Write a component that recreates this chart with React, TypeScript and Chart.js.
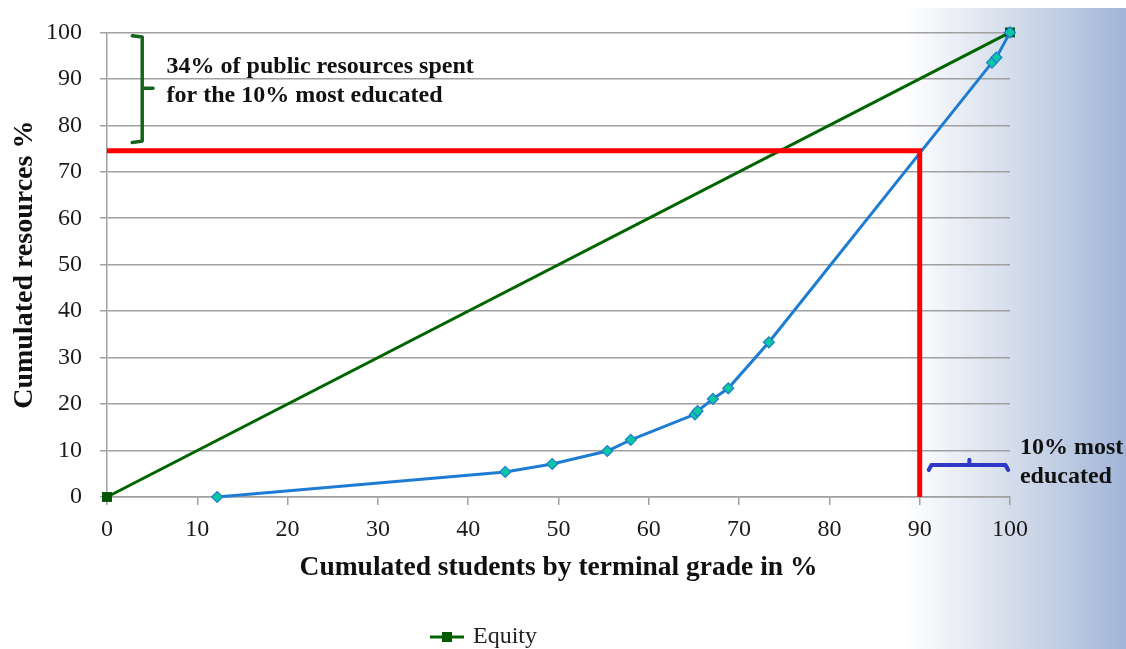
import React, { useEffect, useRef } from "react";
import { Chart, registerables } from "chart.js";

Chart.register(...registerables);

const FONT = "'Liberation Serif', 'Times New Roman', serif";

// Cumulated students (%) vs cumulated public resources (%)
const studentsPct = [12.2, 44.1, 49.3, 55.4, 58.0, 65.1, 65.4, 67.1, 68.8, 73.3, 98.0, 98.5, 100];
const resourcesPct = [0, 5.4, 7.1, 9.9, 12.3, 17.8, 18.5, 21.1, 23.4, 33.3, 93.5, 94.6, 100];

// Equity line
const equityX = [0, 100];
const equityY = [0, 100];

// Cut-off guide for the 10% most educated
const cutoffX = [0, 90, 90];
const cutoffY = [74.5, 74.5, 0];

const tickStep = 10;
const axisMin = 0;
const axisMax = 100;

const xTitle = "Cumulated students by terminal grade in %";
const yTitle = "Cumulated resources %";
const legendLabel = "Equity";
const noteTop = ["34% of public resources spent", "for the 10% most educated"];
const noteBottom = ["10% most", "educated"];

const toPoints = (xs: number[], ys: number[]) => xs.map((x, i) => ({ x, y: ys[i] }));

const backgroundPlugin = {
  id: "bgGradient",
  beforeDraw(chart: any) {
    const { ctx, width, height } = chart;
    ctx.save();
    ctx.fillStyle = "#ffffff";
    ctx.fillRect(0, 0, width, height);
    const startX = width - 221;
    const g = ctx.createLinearGradient(startX, 0, width, 0);
    g.addColorStop(0, "rgba(255,255,255,1)");
    g.addColorStop(0.35, "rgb(224,230,240)");
    g.addColorStop(0.7, "rgb(192,205,227)");
    g.addColorStop(1, "rgb(160,181,215)");
    ctx.fillStyle = g;
    ctx.fillRect(startX, 8, width - startX, height - 8);
    ctx.restore();
  },
};

const annotationPlugin = {
  id: "notes",
  afterDatasetsDraw(chart: any) {
    const { ctx } = chart;
    const xs = chart.scales.x;
    const ys = chart.scales.y;
    const px = (v: number) => xs.getPixelForValue(v);
    const py = (v: number) => ys.getPixelForValue(v);
    ctx.save();
    ctx.lineJoin = "round";
    ctx.lineCap = "round";

    // green brace
    ctx.strokeStyle = "rgb(22,100,28)";
    ctx.lineWidth = 3.5;
    ctx.beginPath();
    ctx.moveTo(px(2.8), py(99.3));
    ctx.lineTo(px(3.9), py(99.0));
    ctx.lineTo(px(3.9), py(76.6));
    ctx.lineTo(px(2.8), py(76.3));
    ctx.moveTo(px(3.9), py(88));
    ctx.lineTo(px(5.1), py(88));
    ctx.stroke();

    // blue brace
    ctx.strokeStyle = "rgb(48,56,200)";
    ctx.lineWidth = 4;
    ctx.beginPath();
    ctx.moveTo(px(91.0), py(5.8));
    ctx.lineTo(px(91.3), py(6.9));
    ctx.lineTo(px(99.5), py(6.9));
    ctx.lineTo(px(99.8), py(5.8));
    ctx.moveTo(px(95.5), py(6.9));
    ctx.lineTo(px(95.5), py(8.0));
    ctx.stroke();

    ctx.fillStyle = "#111111";
    ctx.font = `bold 24px ${FONT}`;
    ctx.textAlign = "left";
    ctx.textBaseline = "middle";
    ctx.fillText(noteTop[0], px(6.6), py(92.5));
    ctx.fillText(noteTop[1], px(6.6), py(86.4));
    ctx.fillText(noteBottom[0], px(101.1), py(10.6));
    ctx.fillText(noteBottom[1], px(101.1), py(4.3));
    ctx.restore();
  },
};

const legendShiftPlugin = {
  id: "legendShift",
  afterLayout(chart: any) {
    if (chart.legend) {
      chart.legend.left -= 40;
      chart.legend.top += 10;
      chart.legend.bottom += 10;
    }
  },
};

export default function App() {
  const canvasRef = useRef<HTMLCanvasElement | null>(null);

  useEffect(() => {
    if (!canvasRef.current) return;

    const icon = document.createElement("canvas");
    icon.width = 34;
    icon.height = 12;
    const ictx = icon.getContext("2d")!;
    ictx.strokeStyle = "rgb(0,100,0)";
    ictx.lineWidth = 3;
    ictx.beginPath();
    ictx.moveTo(0, 6);
    ictx.lineTo(34, 6);
    ictx.stroke();
    ictx.fillStyle = "rgb(0,90,0)";
    ictx.fillRect(12, 1, 10, 10);

    const gridColor = "#a0a0a0";

    const chart = new Chart(canvasRef.current, {
      type: "scatter",
      data: {
        datasets: [
          {
            label: legendLabel,
            data: toPoints(equityX, equityY),
            showLine: true,
            borderColor: "rgb(0,100,0)",
            backgroundColor: "rgb(0,85,0)",
            borderWidth: 3,
            pointStyle: "rect",
            pointRadius: 7,
            pointBorderWidth: 0,
            clip: false,
            order: 3,
          } as any,
          {
            label: "Resources",
            data: toPoints(studentsPct, resourcesPct),
            showLine: true,
            borderColor: "rgb(30,125,210)",
            backgroundColor: "rgb(10,200,160)",
            borderWidth: 3,
            pointStyle: "rectRot",
            pointRadius: 5.5,
            pointBorderColor: "rgb(30,125,210)",
            pointBorderWidth: 1.2,
            clip: false,
            order: 2,
          } as any,
          {
            label: "Cut-off",
            data: toPoints(cutoffX, cutoffY),
            showLine: true,
            borderColor: "#ff0000",
            borderWidth: 5,
            pointRadius: 0,
            borderCapStyle: "butt",
            borderJoinStyle: "miter",
            clip: false,
            order: 1,
          } as any,
        ],
      },
      options: {
        responsive: false,
        animation: false,
        layout: { padding: { top: 32, right: 116, bottom: 0, left: 0 } },
        scales: {
          x: {
            type: "linear",
            min: axisMin,
            max: axisMax,
            afterFit: (s: any) => {
              s.height = 114;
            },
            ticks: {
              stepSize: tickStep,
              color: "#1a1a1a",
              font: { family: FONT, size: 24 },
              padding: 10,
              maxRotation: 0,
            },
            grid: {
              drawOnChartArea: false,
              drawTicks: true,
              tickLength: 8,
              color: gridColor,
              lineWidth: 1.5,
            },
            border: { color: gridColor, width: 1.5 },
            title: {
              display: true,
              text: xTitle,
              color: "#111111",
              font: { family: FONT, size: 27.5, weight: "bold" },
              padding: { top: 4, bottom: 27 },
            },
          },
          y: {
            type: "linear",
            min: axisMin,
            max: axisMax,
            afterFit: (s: any) => {
              s.width = 107;
            },
            ticks: {
              stepSize: tickStep,
              color: "#1a1a1a",
              font: { family: FONT, size: 24 },
              padding: 18,
            },
            grid: {
              drawTicks: true,
              tickLength: 7,
              color: gridColor,
              lineWidth: 1.5,
            },
            border: { color: gridColor, width: 1.5 },
            title: {
              display: true,
              text: yTitle,
              color: "#111111",
              font: { family: FONT, size: 28, weight: "bold" },
              padding: { top: 8, bottom: 0 },
            },
          },
        },
        plugins: {
          legend: {
            position: "bottom",
            labels: {
              usePointStyle: true,
              pointStyleWidth: 28,
              color: "#222222",
              font: { family: FONT, size: 24 },
              padding: 4,
              generateLabels: () => [
                {
                  text: legendLabel,
                  datasetIndex: 0,
                  pointStyle: icon,
                  fillStyle: "rgb(0,90,0)",
                  strokeStyle: "rgb(0,100,0)",
                  lineWidth: 0,
                  hidden: false,
                  fontColor: "#222222",
                },
              ],
            },
          },
          tooltip: { enabled: false },
        },
      },
      plugins: [backgroundPlugin, annotationPlugin, legendShiftPlugin],
    } as any);

    return () => chart.destroy();
  }, []);

  return (
    <div style={{ position: "absolute", left: 0, top: 0, width: 1126, height: 649 }}>
      <canvas ref={canvasRef} width={1126} height={649} style={{ display: "block" }} />
    </div>
  );
}
